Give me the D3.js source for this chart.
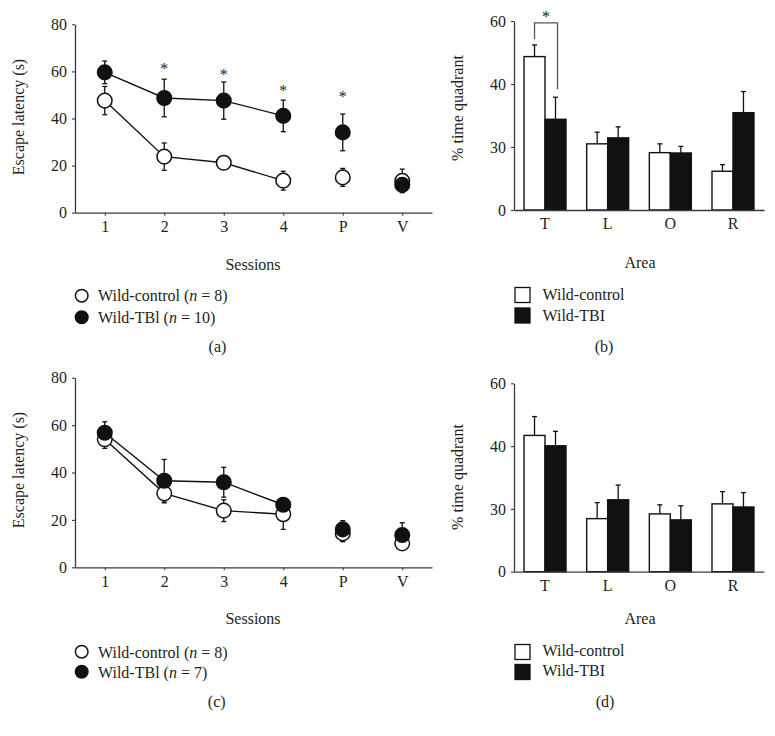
<!DOCTYPE html>
<html>
<head>
<meta charset="utf-8">
<script src="https://cdn.jsdelivr.net/npm/d3@7"></script>
<style>
  html, body { margin: 0; padding: 0; background: #fff; }
  svg { display: block; }
  text { font-family: "Liberation Serif", "Times New Roman", serif; fill: #231f20; }
</style>
</head>
<body>
<script>
// ---------------- DATA ----------------
const sessions = ["1", "2", "3", "4", "P", "V"];
const connectedSessions = ["1", "2", "3", "4"];

// Panel (a)
const aControl    = [47.6, 23.8, 21.2, 13.6, 15.0, 13.5];
const aControlErr = [6.0, 5.8, 1.5, 4.0, 3.8, 5.0];
const aTbi        = [59.6, 48.7, 47.6, 41.1, 34.1, 11.8];
const aTbiErr     = [4.8, 8.0, 7.9, 6.7, 7.8, 2.0];
const aSigSessions = ["2", "3", "4", "P"];
const aSigLevels   = [62.4, 59.9, 52.8, 50.4];

// Panel (c)
const cControl    = [54.0, 31.2, 23.9, 22.4, 14.3, 10.1];
const cControlErr = [3.8, 4.0, 4.6, 6.4, 3.5, 2.5];
const cTbi        = [56.8, 36.5, 35.9, 26.4, 16.0, 13.6];
const cTbiErr     = [4.6, 9.0, 6.3, 3.0, 3.7, 5.2];

const lineYTicks = [0, 20, 40, 60, 80];

// Panel (b)
const areas = ["T", "L", "O", "R"];
const bControl    = [48.7, 21.0, 18.2, 12.3];
const bControlErr = [3.7, 3.7, 2.8, 2.1];
const bTbi        = [28.8, 22.9, 18.1, 30.9];
const bTbiErr     = [7.0, 3.5, 2.1, 6.7];
const bSigArea    = "T";

// Panel (d)
const dControl    = [43.4, 16.9, 18.4, 21.6];
const dControlErr = [6.0, 5.1, 2.9, 3.9];
const dTbi        = [40.1, 22.9, 16.5, 20.6];
const dTbiErr     = [4.6, 4.7, 4.5, 4.6];

const barYTicks      = [0, 20, 40, 60];
const barYTickLabels = ["0", "30", "40", "60"];

// ---------------- DRAW ----------------
const W = 775, H = 736;
const svg = d3.select("body").append("svg").attr("width", W).attr("height", H);
const FS = 16;
const axisColor = "#3a3a3a";
const ink = "#111";

function styleAxis(g) {
  g.selectAll("path.domain").attr("stroke", axisColor).attr("stroke-width", 1.3);
  g.selectAll(".tick line").attr("stroke", axisColor).attr("stroke-width", 1.1);
  g.selectAll(".tick text").attr("font-size", FS).attr("fill", "#231f20")
    .attr("font-family", '"Liberation Serif", "Times New Roman", serif');
}

function linePanel(o) {
  const x = d3.scalePoint().domain(sessions).range([o.x0, o.x1]).padding(0.5);
  const y = d3.scaleLinear().domain([0, 80]).range([o.y0, o.y1]);
  const g = svg.append("g");

  const gx = g.append("g").attr("transform", `translate(0,${o.y0})`)
    .call(d3.axisBottom(x).tickSize(3).tickSizeOuter(0).tickPadding(5));
  styleAxis(gx);
  const gy = g.append("g").attr("transform", `translate(${o.x0},0)`)
    .call(d3.axisLeft(y).tickValues(lineYTicks).tickSize(3).tickSizeOuter(0).tickPadding(5));
  styleAxis(gy);

  const series = [
    { vals: o.control, errs: o.controlErr, fill: "#fff" },
    { vals: o.tbi, errs: o.tbiErr, fill: ink }
  ];
  const line = d3.line().x(d => x(d.s)).y(d => y(d.v));
  series.forEach(sr => {
    const pts = sessions.map((s, i) => ({ s, v: sr.vals[i], e: sr.errs[i] }));
    g.append("path")
      .attr("d", line(pts.filter(p => connectedSessions.includes(p.s))))
      .attr("fill", "none").attr("stroke", ink).attr("stroke-width", 1.4);
    sr.pts = pts;
  });
  series.forEach(sr => {
    const eg = g.append("g").attr("stroke", ink).attr("stroke-width", 1.3);
    sr.pts.forEach(p => {
      const cx = x(p.s);
      eg.append("line").attr("x1", cx).attr("x2", cx)
        .attr("y1", y(p.v - p.e)).attr("y2", y(p.v + p.e));
      [p.v - p.e, p.v + p.e].forEach(v => {
        eg.append("line").attr("x1", cx - 2.5).attr("x2", cx + 2.5)
          .attr("y1", y(v)).attr("y2", y(v));
      });
    });
  });
  series.forEach(sr => {
    g.append("g").selectAll("circle").data(sr.pts).join("circle")
      .attr("cx", d => x(d.s)).attr("cy", d => y(d.v)).attr("r", 7.3)
      .attr("fill", sr.fill).attr("stroke", ink).attr("stroke-width", 1.5);
  });

  if (o.sigS) {
    o.sigS.forEach((s, i) => {
      g.append("text").attr("x", x(s)).attr("y", y(o.sigL[i]) + 8)
        .attr("text-anchor", "middle").attr("font-size", 16).attr("fill", "#333").text("*");
    });
  }

  g.append("text")
    .attr("transform", `translate(${o.titleX},${o.titleY}) rotate(-90)`)
    .attr("text-anchor", "middle").attr("font-size", FS).text("Escape latency (s)");
  g.append("text").attr("x", 253).attr("y", o.sessY)
    .attr("text-anchor", "middle").attr("font-size", FS).text("Sessions");

  const legItems = [
    { fill: "#fff", label: ["Wild-control (", "n", " = " + o.nCtrl + ")"] },
    { fill: ink, label: ["Wild-TBl (", "n", " = " + o.nTbi + ")"] }
  ];
  legItems.forEach((it, i) => {
    const cy = o.legY[i];
    g.append("circle").attr("cx", 81.7).attr("cy", cy).attr("r", 6.3)
      .attr("fill", it.fill).attr("stroke", ink).attr("stroke-width", 1.5);
    const t = g.append("text").attr("x", 98).attr("y", o.legBase[i]).attr("font-size", FS);
    t.append("tspan").text(it.label[0]);
    t.append("tspan").attr("font-style", "italic").text(it.label[1]);
    t.append("tspan").text(it.label[2]);
  });
  g.append("text").attr("x", o.tagX).attr("y", o.tagY).attr("text-anchor", "middle")
    .attr("font-size", FS).text(o.tag);
}

function barPanel(o) {
  const x = d3.scaleBand().domain(areas).range([o.x0, o.x1]).paddingInner(0.33).paddingOuter(0.16);
  const y = d3.scaleLinear().domain([0, 60]).range([o.y0, o.y1]);
  const g = svg.append("g");
  const bw = x.bandwidth() / 2;

  const series = [
    { vals: o.control, errs: o.controlErr, fill: "#fff", off: 0 },
    { vals: o.tbi, errs: o.tbiErr, fill: ink, off: bw }
  ];
  series.forEach(sr => {
    const eg = g.append("g").attr("stroke", ink).attr("stroke-width", 1.3);
    areas.forEach((a, i) => {
      const cx = x(a) + sr.off + bw / 2;
      eg.append("line").attr("x1", cx).attr("x2", cx)
        .attr("y1", y(sr.vals[i])).attr("y2", y(sr.vals[i] + sr.errs[i]));
      eg.append("line").attr("x1", cx - 2.5).attr("x2", cx + 2.5)
        .attr("y1", y(sr.vals[i] + sr.errs[i])).attr("y2", y(sr.vals[i] + sr.errs[i]));
    });
    g.append("g").selectAll("rect").data(areas).join("rect")
      .attr("x", (a) => x(a) + sr.off).attr("width", bw)
      .attr("y", (a, i) => y(sr.vals[i])).attr("height", (a, i) => o.y0 - y(sr.vals[i]))
      .attr("fill", sr.fill).attr("stroke", ink).attr("stroke-width", 1.4);
  });

  const gx = g.append("g").attr("transform", `translate(0,${o.y0})`)
    .call(d3.axisBottom(x).tickSize(0).tickSizeOuter(0).tickPadding(8));
  styleAxis(gx);
  const gy = g.append("g").attr("transform", `translate(${o.x0},0)`)
    .call(d3.axisLeft(y).tickValues(barYTicks).tickSize(3).tickSizeOuter(0).tickPadding(5)
      .tickFormat((d, i) => barYTickLabels[i]));
  styleAxis(gy);

  if (o.sig) {
    const i = areas.indexOf(o.sig);
    const c1 = x(o.sig) + bw / 2, c2 = x(o.sig) + bw * 1.5;
    const t1 = y(o.control[i] + o.controlErr[i]);
    const t2 = y(o.tbi[i] + o.tbiErr[i]);
    const top = Math.min(t1, t2) - 22;
    g.append("path")
      .attr("d", `M${c1},${t1 - 6}V${top}H${c2 + 2}V${t2 - 8}`)
      .attr("fill", "none").attr("stroke", "#555").attr("stroke-width", 1.3);
    g.append("text").attr("x", (c1 + c2) / 2 + 1).attr("y", top - 1)
      .attr("text-anchor", "middle").attr("font-size", 16).attr("fill", "#333").text("*");
  }

  g.append("text")
    .attr("transform", `translate(${o.titleX},${o.titleY}) rotate(-90)`)
    .attr("text-anchor", "middle").attr("font-size", FS).text("% time quadrant");
  g.append("text").attr("x", 640).attr("y", o.areaY)
    .attr("text-anchor", "middle").attr("font-size", FS).text("Area");

  const leg = [{ fill: "#fff", label: "Wild-control" }, { fill: ink, label: "Wild-TBI" }];
  leg.forEach((it, k) => {
    g.append("rect").attr("x", 515).attr("y", o.legY[k]).attr("width", 15).attr("height", 15)
      .attr("fill", it.fill).attr("stroke", ink).attr("stroke-width", 1.3);
    g.append("text").attr("x", 542.5).attr("y", o.legBase[k]).attr("font-size", FS).text(it.label);
  });
  g.append("text").attr("x", o.tagX).attr("y", o.tagY).attr("text-anchor", "middle")
    .attr("font-size", FS).text(o.tag);
}

linePanel({
  x0: 75, x1: 432, y0: 212.7, y1: 24.3,
  control: aControl, controlErr: aControlErr, tbi: aTbi, tbiErr: aTbiErr,
  sigS: aSigSessions, sigL: aSigLevels,
  titleX: 24, titleY: 117, sessY: 270,
  nCtrl: 8, nTbi: 10, legY: [295.7, 317.3], legBase: [301, 322.5],
  tag: "(a)", tagX: 217.5, tagY: 352
});
linePanel({
  x0: 75, x1: 432, y0: 567.3, y1: 377.7,
  control: cControl, controlErr: cControlErr, tbi: cTbi, tbiErr: cTbiErr,
  titleX: 24, titleY: 470, sessY: 624,
  nCtrl: 8, nTbi: 7, legY: [651.7, 671.7], legBase: [657.5, 677.5],
  tag: "(c)", tagX: 216.7, tagY: 707
});
barPanel({
  x0: 514, x1: 764, y0: 210, y1: 21,
  control: bControl, controlErr: bControlErr, tbi: bTbi, tbiErr: bTbiErr,
  sig: bSigArea, titleX: 463, titleY: 108, areaY: 268,
  legY: [287.5, 308], legBase: [300, 321],
  tag: "(b)", tagX: 604, tagY: 352
});
barPanel({
  x0: 514, x1: 764, y0: 571.7, y1: 383.3,
  control: dControl, controlErr: dControlErr, tbi: dTbi, tbiErr: dTbiErr,
  titleX: 463, titleY: 477, areaY: 624,
  legY: [644.5, 664.5], legBase: [656, 676],
  tag: "(d)", tagX: 605, tagY: 707
});
</script>
</body>
</html>
